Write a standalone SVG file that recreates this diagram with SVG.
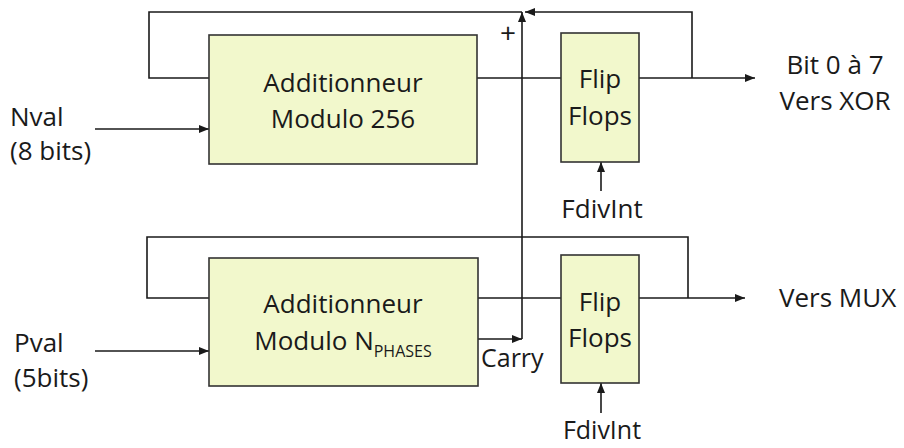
<svg xmlns="http://www.w3.org/2000/svg" width="904" height="448" viewBox="0 0 904 448">
<style>
.box{fill:#F2F8CC;stroke:#333;stroke-width:1.6}
.w{fill:none;stroke:#1a1a1a;stroke-width:1.6}
text{font-family:"Open Sans","Noto Sans",sans-serif;font-size:26px;fill:#1a1a1a}
.c{text-anchor:middle}
</style>
<defs>
<marker id="ah" markerWidth="10" markerHeight="8" refX="10" refY="4" orient="auto" markerUnits="userSpaceOnUse">
<path d="M0,0 L10,4 L0,8 Z" fill="#1a1a1a"/>
</marker>
</defs>
<rect width="904" height="448" fill="#fff"/>
<g id="connectors">
<polyline class="w" points="209,78 149,78 149,12 522,12"/>
<polyline class="w" points="692,78 692,12 525,12" marker-end="url(#ah)"/>
<line class="w" x1="95" y1="129" x2="209" y2="129" marker-end="url(#ah)"/>
<line class="w" x1="477" y1="78" x2="561" y2="78"/>
<line class="w" x1="639" y1="78" x2="755" y2="78" marker-end="url(#ah)"/>
<line class="w" x1="601" y1="191" x2="601" y2="162" marker-end="url(#ah)"/>
<polyline class="w" points="209,298 147,298 147,237 688,237 688,298"/>
<line class="w" x1="95" y1="351" x2="209" y2="351" marker-end="url(#ah)"/>
<line class="w" x1="478" y1="298" x2="561" y2="298"/>
<line class="w" x1="639" y1="298" x2="745" y2="298" marker-end="url(#ah)"/>
<line class="w" x1="601" y1="413" x2="601" y2="383" marker-end="url(#ah)"/>
<line class="w" x1="478" y1="339" x2="522" y2="339" marker-end="url(#ah)"/>
<line class="w" x1="522" y1="339" x2="522" y2="12" marker-end="url(#ah)"/>
<text x="508" y="43" class="c" style="font-size:28px">+</text>
<text x="481" y="367" style="font-size:25px">Carry</text>
</g>
<g id="adder1">
<rect class="box" x="209" y="35" width="268" height="129"/>
<text x="343" y="92" class="c">Additionneur</text>
<text x="343" y="128" class="c">Modulo 256</text>
</g>
<g id="ff1">
<rect class="box" x="561" y="33" width="78" height="129"/>
<text x="600" y="88" class="c">Flip</text>
<text x="600" y="125" class="c">Flops</text>
</g>
<g id="adder2">
<rect class="box" x="209" y="258" width="269" height="128"/>
<text x="343" y="313" class="c">Additionneur</text>
<text x="343" y="350" class="c">Modulo N<tspan style="font-size:16px" dy="7">PHASES</tspan></text>
</g>
<g id="ff2">
<rect class="box" x="561" y="255" width="78" height="128"/>
<text x="600" y="311" class="c">Flip</text>
<text x="600" y="347" class="c">Flops</text>
</g>
<g id="labels">
<text x="10" y="126">Nval</text>
<text x="10" y="160">(8 bits)</text>
<text x="14" y="352">Pval</text>
<text x="14" y="387">(5bits)</text>
<text x="602" y="218" class="c">FdivInt</text>
<text x="602" y="439" class="c" style="font-size:25px">FdivInt</text>
<text x="835" y="74" class="c">Bit 0 à 7</text>
<text x="835" y="110" class="c">Vers XOR</text>
<text x="779" y="307">Vers MUX</text>
</g>
</svg>
